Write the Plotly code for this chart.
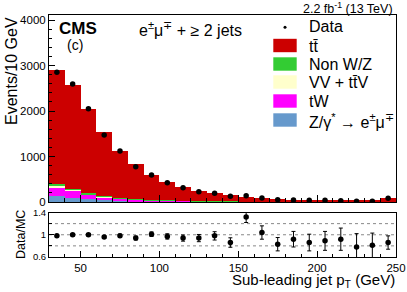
import plotly.graph_objects as go

# ---------------- data ----------------
bin_centers = [35, 45, 55, 65, 75, 85, 95, 105, 115, 125, 135, 145, 155, 165,
               175, 185, 195, 205, 215, 225, 235, 245]
dy_vals = [130, 95, 60, 44, 30, 20, 14, 10, 8, 6, 5, 4, 3, 2, 2, 1, 1, 1, 1, 0.5, 0.5, 2]
tw_vals = [185, 147, 95, 60, 42, 30, 22, 18, 14, 11, 9, 7, 6, 5, 4, 3, 3, 3, 2, 2, 2, 6]
vv_vals = [50, 28, 15, 12, 8, 6, 4, 3, 3, 2, 2, 1, 1, 1, 1, 1, 1, 0.5, 0.5, 0.3, 0.3, 1]
nonwz_vals = [35, 22, 20, 15, 10, 6, 5, 4, 3, 3, 2, 2, 1, 1, 1, 1, 1, 0.5, 0.5, 0.3, 0.3, 1]
ttbar_vals = [2500, 2288, 1850, 1404, 1040, 766, 543, 405, 302, 220, 177, 133, 94, 74,
              52, 42, 37, 37, 25, 19, 19, 85]
data_vals = [2850, 2593, 2051, 1472, 1121, 777, 593, 425, 312, 228, 190, 125, 139, 88,
             51, 44, 37, 37, 27, 17, 18, 82]
ratio_vals = [0.98, 1.00, 1.00, 0.96, 0.98, 0.94, 1.01, 0.97, 0.94, 0.94, 0.98, 0.86,
              1.32, 1.04, 0.83, 0.92, 0.86, 0.89, 0.92, 0.78, 0.81, 0.86]
ratio_errs = [0.02, 0.02, 0.022, 0.026, 0.03, 0.036, 0.041, 0.048, 0.055, 0.065, 0.075,
              0.085, 0.1, 0.12, 0.12, 0.14, 0.15, 0.17, 0.2, 0.24, 0.22, 0.12]

x_tick_vals = [50, 100, 150, 200, 250]
y_tick_vals = [0, 1000, 2000, 3000, 4000]
ratio_tick_vals = [0.6, 1, 1.4]
ratio_tick_text = ["0.6", "1", "1.4"]

C_TT = "#cc0000"
C_NWZ = "#33cc33"
C_VV = "#ffffcc"
C_TW = "#ff00ff"
C_DY = "#6699cc"
FONT = "Liberation Sans"

W, H = 407, 292
L, R, T, B = 49, 11, 15, 35


def pxx(p):
    return (p - L) / (W - L - R)


def pxy(p):
    return (H - B - p) / (H - T - B)


fig = go.Figure()

stack = [("Z/γ*", dy_vals, C_DY), ("tW", tw_vals, C_TW), ("VV", vv_vals, C_VV),
         ("Non W/Z", nonwz_vals, C_NWZ), ("tt", ttbar_vals, C_TT)]
for name, vals, col in stack:
    fig.add_trace(go.Bar(x=bin_centers, y=vals, width=10, marker_color=col,
                         marker_line_width=0, name=name, xaxis="x2", yaxis="y2",
                         showlegend=False))

fig.add_trace(go.Scatter(x=bin_centers, y=data_vals, mode="markers",
                         marker=dict(color="black", size=5.5), xaxis="x2", yaxis="y2",
                         showlegend=False))

fig.add_trace(go.Scatter(x=bin_centers, y=ratio_vals, mode="markers",
                         marker=dict(color="black", size=5.5),
                         error_y=dict(type="data", array=ratio_errs, color="black",
                                      thickness=1, width=2),
                         xaxis="x", yaxis="y", showlegend=False))

# dotted reference lines in ratio panel
for yv in [0.8, 1.0, 1.2]:
    fig.add_shape(type="line", xref="x", yref="y", x0=30, x1=250, y0=yv, y1=yv,
                  line=dict(color="#888888", width=1, dash="dot"), layer="below")

main_dom0 = pxy(202)
ratio_dom1 = pxy(212.5)

axis_common = dict(showline=True, linecolor="black", linewidth=1, mirror=True,
                   ticks="inside", tickcolor="black", showgrid=False, zeroline=False,
                   automargin=False)

fig.update_layout(
    width=W, height=H, margin=dict(l=L, r=R, t=T, b=B, autoexpand=False),
    paper_bgcolor="white", plot_bgcolor="white",
    barmode="stack", bargap=0,
    font=dict(family=FONT, color="black"),
    xaxis=dict(domain=[0, 1], anchor="y", range=[30, 250], tickvals=x_tick_vals,
               ticklen=6, tickfont=dict(size=11.5),
               minor=dict(dtick=10, tick0=0, ticks="inside", ticklen=3, tickcolor="black"),
               **axis_common),
    yaxis=dict(domain=[0, ratio_dom1], anchor="x", range=[0.6, 1.4],
               tickvals=ratio_tick_vals, ticktext=ratio_tick_text, ticklen=5,
               tickfont=dict(size=9.5),
               minor=dict(dtick=0.2, tick0=0.6, ticks="inside", ticklen=3, tickcolor="black"),
               **axis_common),
    xaxis2=dict(domain=[0, 1], anchor="y2", range=[30, 250], matches="x",
                tickvals=x_tick_vals, showticklabels=False, ticklen=7,
                minor=dict(dtick=10, tick0=0, ticks="inside", ticklen=4, tickcolor="black"),
                **axis_common),
    yaxis2=dict(domain=[main_dom0, 1], anchor="x2", range=[0, 4110],
                tickvals=y_tick_vals, ticklen=6, tickfont=dict(size=11.5),
                minor=dict(dtick=200, tick0=0, ticks="inside", ticklen=3, tickcolor="black"),
                **axis_common),
)

ann = []


def add_text(text, x, y, size, xanchor="left", yanchor="middle", bold=False, angle=0):
    if bold:
        text = "<b>" + text + "</b>"
    ann.append(dict(text=text, x=pxx(x), y=pxy(y), xref="paper", yref="paper",
                    xanchor=xanchor, yanchor=yanchor, showarrow=False,
                    font=dict(size=size, family=FONT, color="black"), textangle=angle))


add_text("CMS", 57, 28, 17, bold=True)
add_text("(c)", 75, 45, 14, xanchor="center")
add_text("e<sup>±</sup>μ<sup>∓</sup> + ≥ 2 jets", 137, 29, 16)
add_text("2.2 fb<sup>-1</sup> (13 TeV)", 395, 8, 12.5, xanchor="right")
add_text("Events/10 GeV", 11, 71, 16, xanchor="center", angle=-90)
add_text("Data/MC", 21, 235, 12.5, xanchor="center", angle=-90)
add_text("Sub-leading jet p<sub>T</sub> (GeV)", 397, 280, 15, xanchor="right")

# legend
leg_rows = [("tt\u0304", C_TT, 46), ("Non W/Z", C_NWZ, 64.5), ("VV + tt\u0304V", C_VV, 82.5),
            ("tW", C_TW, 101.5), ("Z/γ<sup>*</sup> → e<sup>±</sup>μ<sup>∓</sup>", C_DY, 120.5)]
add_text("Data", 306.5, 26.5, 16)
fig.add_shape(type="circle", xref="paper", yref="paper", x0=pxx(283.5), x1=pxx(286.5),
              y0=pxy(28.8), y1=pxy(25.8), fillcolor="black", line=dict(width=0))
for label, col, yc in leg_rows:
    fig.add_shape(type="rect", xref="paper", yref="paper", x0=pxx(273.3), x1=pxx(296.7),
                  y0=pxy(yc - 0.5 + 6.7), y1=pxy(yc - 0.5 - 6.7), fillcolor=col,
                  line=dict(width=0))
    add_text(label, 306.5, yc, 16)

fig.update_layout(annotations=ann)
fig.write_html("out.html", config={"displayModeBar": False},
               post_script="document.body.style.margin='0';document.body.style.padding='0';")
